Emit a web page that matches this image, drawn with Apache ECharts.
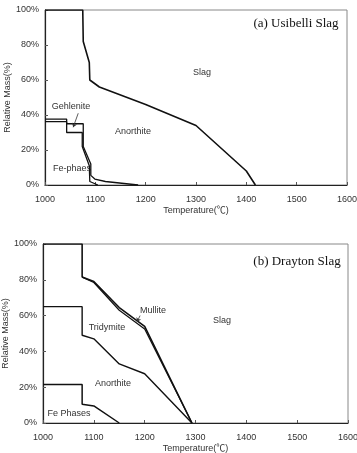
<!DOCTYPE html>
<html><head><meta charset="utf-8">
<script src="https://cdn.jsdelivr.net/npm/echarts@6/dist/echarts.min.js"></script>
<style>html,body{margin:0;padding:0;background:#fff}#c{width:357px;height:453px}</style>
</head><body><div id="c"></div>
<script>
// x ticks and y ticks
const xTicks = [1000, 1100, 1200, 1300, 1400, 1500, 1600];
const yTicks = [0, 20, 40, 60, 80, 100];

// (a) Usibelli Slag: cumulative phase boundaries [temperature, %]
const usiSlagBoundary = [[1000,100],[1075,100],[1076,82],[1088,70],[1089,60],[1108,56],[1200,46],[1300,34],[1400,8],[1418,0]];
const usiGehleniteTop = [[1000,37.7],[1043,37.7],[1043,35],[1076,35],[1076,22],[1091,12],[1091,5.5],[1099,3.4],[1120,2],[1185,0]];
const usiFeTop = [[1000,36.2],[1043,36.2],[1043,30],[1074,30],[1074,22],[1088,11],[1089,2],[1105,0]];

// (b) Drayton Slag
const draSlagBoundary = [[1000,100],[1077,100],[1077,81.5],[1100,79],[1150,64.5],[1200,54],[1293,0]];
const draTridymiteTop = [[1077,81.5],[1100,78.5],[1150,63],[1200,52.5],[1293,0]];
const draAnorthiteTop = [[1000,65],[1077,65],[1077,49],[1100,47],[1150,33],[1200,27.5],[1293,0]];
const draFeTop = [[1000,21.5],[1077,21.5],[1077,10.5],[1100,9.5],[1150,0]];

// annotation arrows [from, to]
const usiGehArrow = [[1066,41],[1056,33]];
const draMulArrow = [[1191,60],[1185,56.5]];

const FONT = 'Liberation Sans, Arial, Noto Sans CJK KR, sans-serif';
const chart = echarts.init(document.getElementById('c'));

function xAxis(gi) {
  return {
    gridIndex: gi, type: 'value', min: xTicks[0], max: xTicks[xTicks.length - 1], interval: xTicks[1] - xTicks[0],
    name: 'Temperature(℃)', nameLocation: 'middle', nameGap: 21, nameMoveOverlap: false,
    nameTextStyle: {fontFamily: FONT, fontSize: 9, color: '#333'},
    axisLine: {lineStyle: {color: '#222', width: 1.2}},
    axisTick: {inside: true, length: 3, lineStyle: {color: '#555'}},
    axisLabel: {fontFamily: FONT, fontSize: 9, color: '#333', margin: 10,
      formatter: v => String(v)},
    splitLine: {show: false}
  };
}
function yAxis(gi) {
  return {
    gridIndex: gi, type: 'value', min: yTicks[0], max: yTicks[yTicks.length - 1], interval: yTicks[1] - yTicks[0],
    name: 'Relative Mass(%)', nameLocation: 'middle', nameGap: 33, nameMoveOverlap: false,
    nameTextStyle: {fontFamily: FONT, fontSize: 9, color: '#333'},
    axisLine: {lineStyle: {color: '#222', width: 1.2}},
    axisTick: {inside: true, length: 3, lineStyle: {color: '#555'}},
    axisLabel: {fontFamily: FONT, fontSize: 9, color: '#333', margin: 6,
      formatter: v => v + '%'},
    splitLine: {show: false}
  };
}
function line(data, xi, w) {
  return {type: 'line', xAxisIndex: xi, yAxisIndex: xi, data: data,
    symbol: 'none', silent: true, animation: false,
    lineStyle: {color: '#111', width: w || 1.6}};
}
function arrow(pts, xi) {
  return {type: 'line', xAxisIndex: xi, yAxisIndex: xi, data: [], symbol: 'none',
    markLine: {silent: true, animation: false, symbol: ['none', 'arrow'], symbolSize: 4,
      label: {show: false},
      lineStyle: {color: '#333', width: 0.8, type: 'solid'},
      data: [[{coord: pts[0]}, {coord: pts[1]}]]}};
}
function txt(x, y, s, size, fam, col) {
  return {type: 'text', x: x, y: y, silent: true,
    style: {text: s, fontSize: size, fontFamily: fam || FONT, fill: col || '#333',
      textAlign: 'center', textVerticalAlign: 'middle'}};
}

chart.setOption({
  animation: false,
  grid: [
    {left: 45, top: 10, right: 10, bottom: 268, show: true, borderColor: '#888', borderWidth: 1, containLabel: false, outerBoundsMode: 'none'},
    {left: 43, top: 244, right: 9, bottom: 30, show: true, borderColor: '#888', borderWidth: 1, containLabel: false, outerBoundsMode: 'none'}
  ],
  xAxis: [xAxis(0), xAxis(1)],
  yAxis: [yAxis(0), yAxis(1)],
  series: [
    line(usiSlagBoundary, 0), line(usiGehleniteTop, 0, 1.3), line(usiFeTop, 0, 1.3),
    line(draSlagBoundary, 1), line(draTridymiteTop, 1, 1.2), line(draAnorthiteTop, 1, 1.4), line(draFeTop, 1, 1.5),
    arrow(usiGehArrow, 0), arrow(draMulArrow, 1)
  ],
  graphic: [
    txt(296, 24, '(a) Usibelli Slag', 13, 'Liberation Serif, Times New Roman, serif', '#111'),
    txt(202, 73, 'Slag', 9),
    txt(71, 107, 'Gehlenite', 9),
    txt(133, 132, 'Anorthite', 9),
    txt(72, 169, 'Fe-phaes', 9),
    txt(297, 262, '(b) Drayton Slag', 13, 'Liberation Serif, Times New Roman, serif', '#111'),
    txt(222, 321, 'Slag', 9),
    txt(153, 311, 'Mullite', 9),
    txt(107, 328, 'Tridymite', 9),
    txt(113, 384, 'Anorthite', 9),
    txt(69, 414, 'Fe Phases', 9)
  ]
});
</script></body></html>
